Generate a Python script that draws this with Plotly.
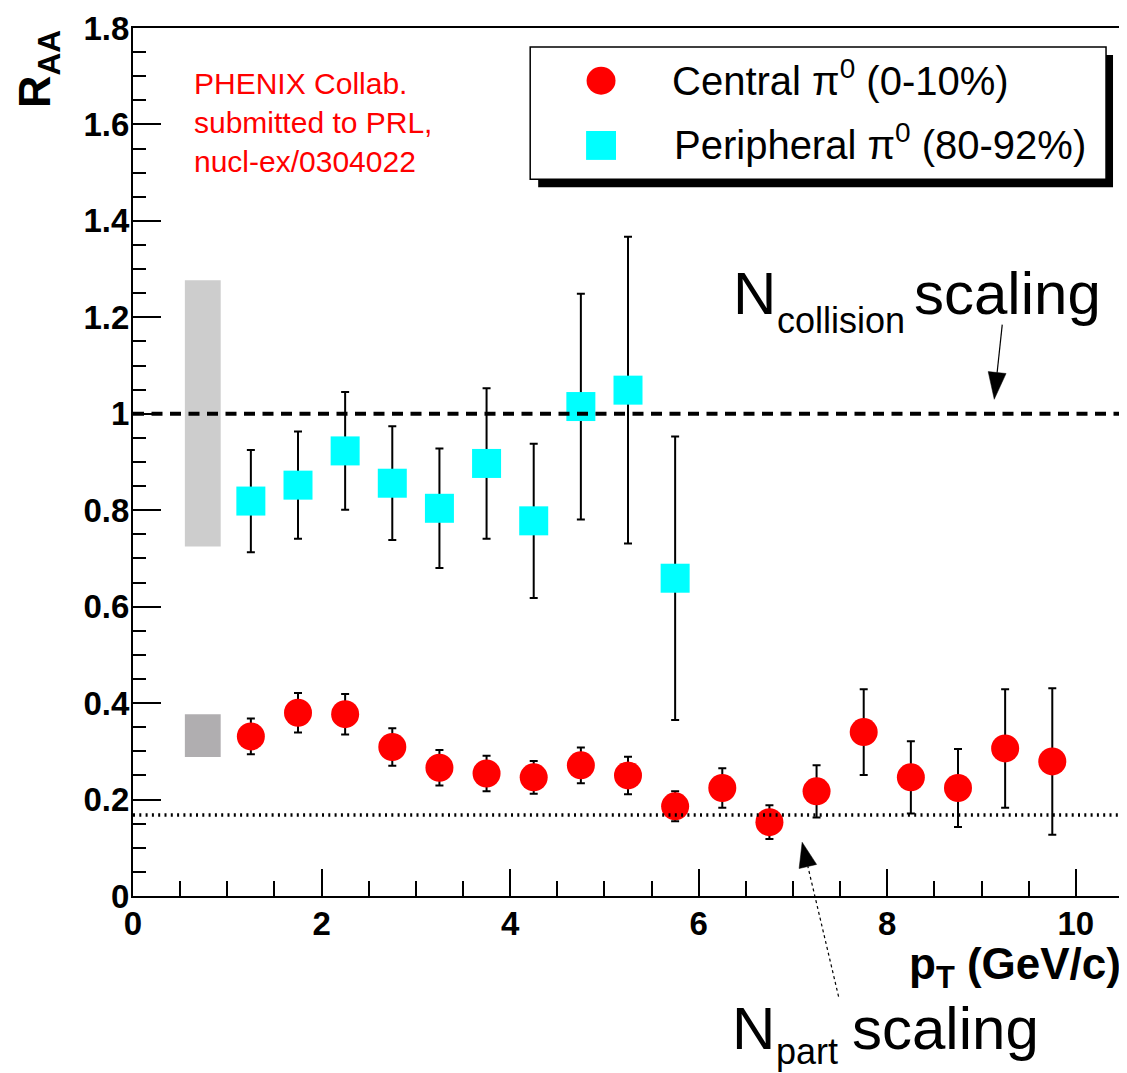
import plotly.graph_objects as go

# ---------------- data ----------------
pt_central = [1.25, 1.75, 2.25, 2.75, 3.25, 3.75, 4.25, 4.75, 5.25,
              5.75, 6.25, 6.75, 7.25, 7.75, 8.25, 8.75, 9.25, 9.75]
raa_central = [0.331, 0.380, 0.377, 0.309, 0.266, 0.254, 0.246, 0.271, 0.250,
               0.186, 0.224, 0.153, 0.217, 0.340, 0.246, 0.224, 0.306, 0.279]
err_central = [0.037, 0.041, 0.042, 0.039, 0.037, 0.037, 0.034, 0.037, 0.039,
               0.031, 0.041, 0.035, 0.054, 0.089, 0.075, 0.081, 0.123, 0.152]

pt_periph = [1.25, 1.75, 2.25, 2.75, 3.25, 3.75, 4.25, 4.75, 5.25, 5.75]
raa_periph = [0.819, 0.852, 0.923, 0.856, 0.804, 0.897, 0.778, 1.015, 1.049, 0.659]
err_periph = [0.106, 0.111, 0.122, 0.118, 0.124, 0.156, 0.160, 0.234, 0.318, 0.294]

# normalisation (systematic) boxes: x-extent, and y-extent per centrality
sys_box_x = [0.55, 0.93]
sys_box_periph = [0.725, 1.277]
sys_box_central = [0.288, 0.377]

# scaling reference levels
ncoll_level = 1.0
npart_level = 0.168

x_range = [0, 10.5]
y_range = [0, 1.8]

legend_labels = ["Central \u03c0<sup>0</sup> (0-10%)",
                 "Peripheral \u03c0<sup>0</sup> (80-92%)"]

# ---------------- layout helpers (reference pixel -> paper) ----------------
OFF = 8  # page body margin
W, H = 1127 - OFF, 1073 - OFF
L, R, T, B = 133 - OFF, 2, 24 - OFF, 177
PW = W - L - R
PH = H - T - B


def xp(px):
    return (px - OFF - L) / PW


def yp(py):
    return (H - B - (py - OFF)) / PH


FONT = "Liberation Sans, Arial, Helvetica, sans-serif"

fig = go.Figure()

fig.add_trace(go.Scatter(
    x=pt_periph, y=raa_periph, mode="markers",
    marker=dict(symbol="square", size=29, color="#00ffff", line=dict(width=0)),
    error_y=dict(type="data", array=err_periph, color="black", thickness=2, width=4),
    name="Peripheral"))

fig.add_trace(go.Scatter(
    x=pt_central, y=raa_central, mode="markers",
    marker=dict(symbol="circle", size=28, color="#ff0000", line=dict(width=0)),
    error_y=dict(type="data", array=err_central, color="black", thickness=2, width=4),
    name="Central"))

shapes = []
# systematic boxes
shapes.append(dict(type="rect", xref="x", yref="y", x0=sys_box_x[0], x1=sys_box_x[1],
                   y0=sys_box_periph[0], y1=sys_box_periph[1],
                   fillcolor="#cdcdcd", line=dict(width=0), layer="below"))
shapes.append(dict(type="rect", xref="x", yref="y", x0=sys_box_x[0], x1=sys_box_x[1],
                   y0=sys_box_central[0], y1=sys_box_central[1],
                   fillcolor="#b0aeb0", line=dict(width=0), layer="below"))
# scaling lines
shapes.append(dict(type="line", xref="paper", yref="y", x0=0, x1=1,
                   y0=ncoll_level, y1=ncoll_level,
                   line=dict(color="black", width=4, dash="11px,7.5px"), layer="above"))
shapes.append(dict(type="line", xref="paper", yref="y", x0=0, x1=1,
                   y0=npart_level, y1=npart_level,
                   line=dict(color="black", width=3.5, dash="2px,4.3px"), layer="above"))

# legend box with shadow
shapes.append(dict(type="rect", xref="paper", yref="paper",
                   x0=xp(539), x1=xp(1115), y0=yp(51), y1=yp(184),
                   fillcolor="black", line=dict(width=0), layer="above"))
shapes.append(dict(type="rect", xref="paper", yref="paper",
                   x0=xp(531), x1=xp(1108), y0=yp(43), y1=yp(176),
                   fillcolor="white", line=dict(color="black", width=1.5), layer="above"))
shapes.append(dict(type="circle", xref="paper", yref="paper",
                   x0=xp(602 - 14.5), x1=xp(602 + 14.5), y0=yp(77 - 14), y1=yp(77 + 14),
                   fillcolor="#ff0000", line=dict(width=0), layer="above"))
shapes.append(dict(type="rect", xref="paper", yref="paper",
                   x0=xp(602 - 15), x1=xp(602 + 15), y0=yp(142 - 14.5), y1=yp(142 + 14.5),
                   fillcolor="#00ffff", line=dict(width=0), layer="above"))


def arrow(tail, tip, head_len, head_w, dash):
    dx, dy = tip[0] - tail[0], tip[1] - tail[1]
    n = (dx * dx + dy * dy) ** 0.5
    ux, uy = dx / n, dy / n
    bx, by = tip[0] - head_len * ux, tip[1] - head_len * uy
    px_, py_ = -uy, ux
    out = [dict(type="line", xref="paper", yref="paper",
                x0=xp(tail[0]), y0=yp(tail[1]), x1=xp(bx), y1=yp(by),
                line=dict(color="black", width=1.2, dash=dash), layer="above")]
    p1 = (bx + px_ * head_w / 2, by + py_ * head_w / 2)
    p2 = (bx - px_ * head_w / 2, by - py_ * head_w / 2)
    path = "M {},{} L {},{} L {},{} Z".format(
        xp(tip[0]), yp(tip[1]), xp(p1[0]), yp(p1[1]), xp(p2[0]), yp(p2[1]))
    out.append(dict(type="path", xref="paper", yref="paper", path=path,
                    fillcolor="black", line=dict(color="black", width=0.5), layer="above"))
    return out


shapes += arrow((1004, 322), (996, 397), 27, 18, "solid")
shapes += arrow((840, 997), (803.5, 842), 25, 18, "3px,3px")

annotations = []


def txt(text, x, y, size, xanchor="left", yanchor="middle", color="black", **kw):
    annotations.append(dict(text=text, xref="paper", yref="paper", x=xp(x), y=yp(y),
                            xanchor=xanchor, yanchor=yanchor, showarrow=False,
                            font=dict(family=FONT, size=size, color=color), **kw))


txt("<b>R<sub>AA</sub></b>", 38, 65, 45, xanchor="center", textangle=-90)
txt("PHENIX Collab.<br>submitted to PRL,<br>nucl-ex/0304022", 192, 61, 30,
    yanchor="top", color="#ff0000", align="left")
txt(legend_labels[0], 671, 74, 40)
txt(legend_labels[1], 673, 139, 40)
txt("N", 732, 291, 60)
txt("collision", 776, 318, 36)
txt("scaling", 914, 291, 60)
txt("N", 731, 1029, 60)
txt("part", 775, 1052, 36)
txt("scaling", 851, 1029, 60)
txt("<b>p<sub>T</sub> (GeV/c)</b>", 1125, 967, 44, xanchor="right")

axis_common = dict(showline=True, linecolor="black", linewidth=2, mirror=True,
                   ticks="inside", tickcolor="black", tickwidth=2,
                   showgrid=False, zeroline=False, ticklabeloverflow="allow",
                   tickfont=dict(family=FONT, size=33, color="black", weight="bold"))

fig.update_layout(
    width=W, height=H,
    margin=dict(l=L, r=R, t=T, b=B),
    paper_bgcolor="white", plot_bgcolor="white",
    showlegend=False,
    xaxis=dict(range=x_range, dtick=2, tick0=0, ticklen=27,
               minor=dict(dtick=0.5, ticklen=15, tickwidth=2, tickcolor="black",
                          ticks="inside", showgrid=False),
               ticklabelstandoff=-3, **axis_common),
    yaxis=dict(range=y_range, dtick=0.2, tick0=0, ticklen=28,
               minor=dict(dtick=0.05, ticklen=13, tickwidth=2, tickcolor="black",
                          ticks="inside", showgrid=False),
               ticklabelstandoff=-5, **axis_common),
    shapes=shapes,
    annotations=annotations,
)

fig.write_html("out.html")
